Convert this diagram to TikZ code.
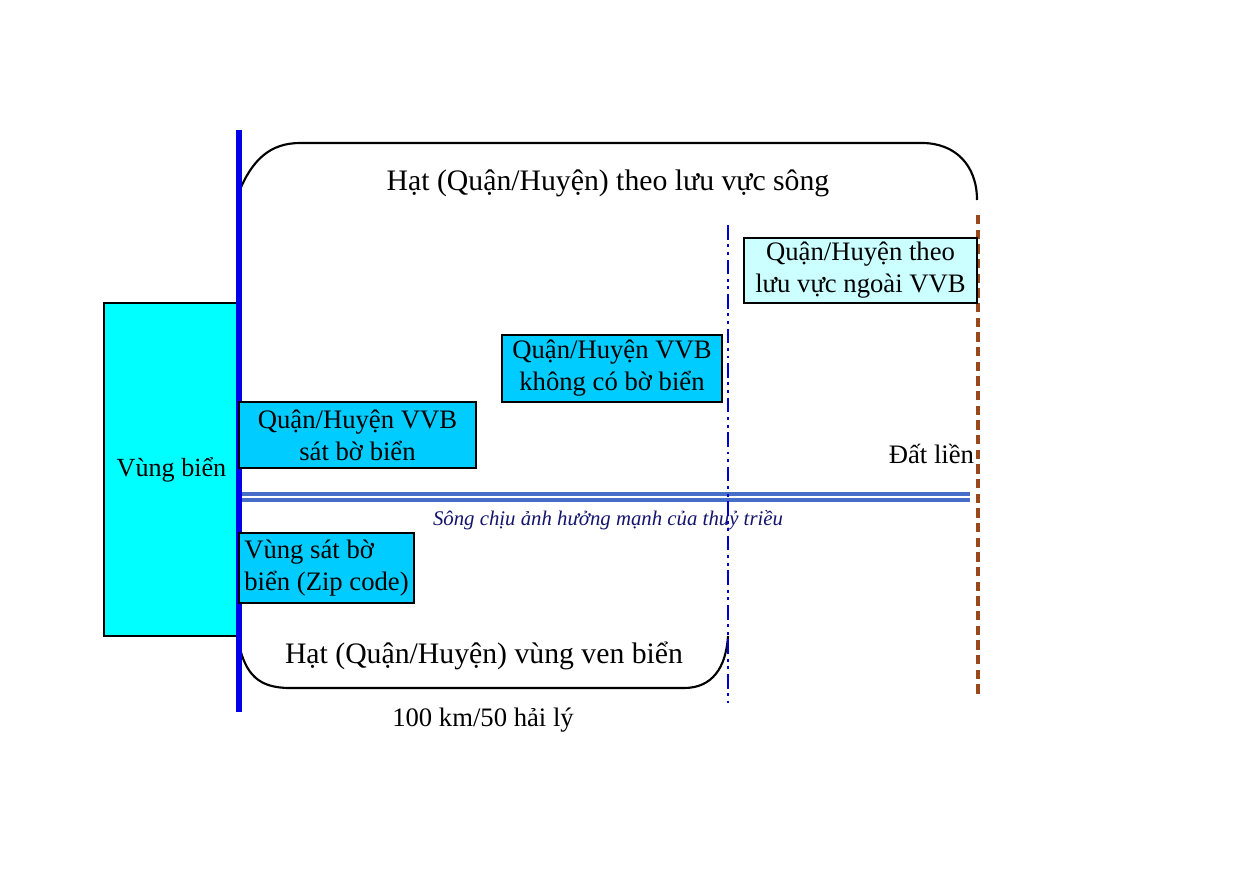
\documentclass[tikz,border=0pt]{standalone}
\usepackage{fontspec}
\setmainfont{Liberation Serif}
\begin{document}
\begin{tikzpicture}[x=0.75pt,y=-0.75pt,
  every node/.style={inner sep=0pt, outer sep=0pt},
  bigtxt/.style={font=\fontsize{22.3}{26}\selectfont, align=center},
  midtxt/.style={font=\fontsize{20}{24}\selectfont, align=center},
  zonebox/.style={draw=black, line width=1.2pt, fill=boxblue, font=\fontsize{20}{24}\selectfont, align=center},
  outline/.style={draw=black, line width=1.6pt},
  coast/.style={draw=coastblue, line width=3.8pt},
  limitline/.style={draw=dashblue, line width=2.1pt, dash pattern=on 11pt off 3.5pt on 2.2pt off 3.5pt on 2.2pt off 3.5pt},
  landline/.style={draw=landbrown, line width=2.4pt, dash pattern=on 7pt off 4pt},
  river/.style={draw=riverblue, line width=3.2pt, double=white, double distance=0.9pt}
]
\definecolor{boxblue}{RGB}{0,204,255}
\definecolor{seacyan}{RGB}{0,255,255}
\definecolor{lightcyan}{RGB}{204,255,255}
\definecolor{coastblue}{RGB}{0,0,230}
\definecolor{dashblue}{RGB}{0,0,204}
\definecolor{landbrown}{RGB}{153,72,28}
\definecolor{riverblue}{RGB}{70,110,200}
\definecolor{navy}{RGB}{20,20,110}
\useasboundingbox (0,0) rectangle (1252,882);
\fill[white] (0,0) rectangle (1252,882);

% sea region
\node[draw=black, line width=1.2pt, fill=seacyan, minimum width=101.25pt, minimum height=249.75pt, anchor=north west,
  font=\fontsize{19.6}{24}\selectfont] (sea) at (104,303) {Vùng biển};

% outlines
\draw[outline] (239,192) .. controls (252,160) and (270,143) .. (300,143) -- (922,143) .. controls (955,143) and (977,165) .. (977,200);
\draw[outline] (239,645) .. controls (246,674) and (258,688) .. (290,688) -- (684,688) .. controls (712,688) and (726,668) .. (728,636);

% river
\coordinate (rs) at (239,497);
\coordinate (re) at (970,497);
\draw[river] (rs) -- (re);
\node[font=\fontsize{15.6}{18}\selectfont\itshape, text=navy] (rivertxt) at (608,520) {Sông chịu ảnh hưởng mạnh của thuỷ triều};

% limit lines
\coordinate (l1) at (728,225);
\coordinate (l2) at (728,703);
\draw[limitline] (l1) -- (l2);
\coordinate (d1) at (978,215);
\coordinate (d2) at (978,698);
\draw[landline] (d1) -- (d2);

% coast line
\coordinate (c1) at (239,130);
\coordinate (c2) at (239,712);
\draw[coast] (c1) -- (c2);

% boxes
\node[zonebox, fill=lightcyan, minimum width=174.75pt, minimum height=48.75pt, anchor=north west] (outer) at (744,238)
  {Quận/Huyện theo\\lưu vực ngoài VVB};
\node[zonebox, minimum width=165pt, minimum height=50.25pt, anchor=north west] (inland) at (502,335)
  {Quận/Huyện VVB\\không có bờ biển};
\node[zonebox, minimum width=177.75pt, minimum height=49.5pt, anchor=north west] (coastal) at (239,402)
  {Quận/Huyện VVB\\sát bờ biển};
\node[zonebox, minimum width=131.25pt, minimum height=52.5pt, anchor=north west, align=left, inner xsep=3pt] (zip) at (239,533)
  {Vùng sát bờ\\biển (Zip code)};

% labels
\node[bigtxt] (top) at (608,183) {Hạt (Quận/Huyện) theo lưu vực sông};
\node[bigtxt] (bottom) at (484,656) {Hạt (Quận/Huyện) vùng ven biển};
\node[midtxt, anchor=east] (land) at (974,454) {Đất liền};
\node[midtxt] (dist) at (483,720) {100 km/50 hải lý};
\end{tikzpicture}
\end{document}
